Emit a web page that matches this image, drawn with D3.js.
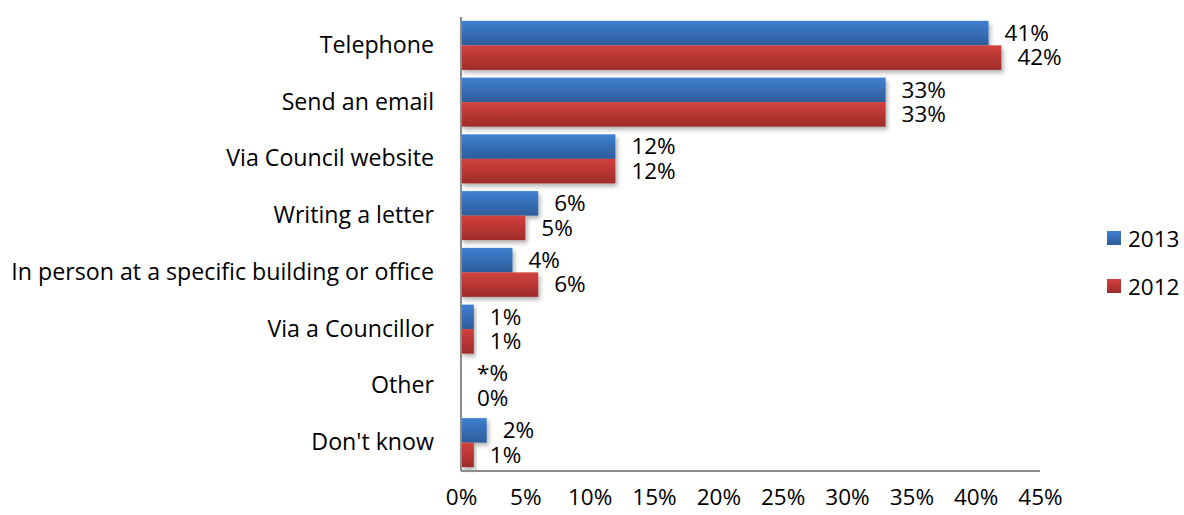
<!DOCTYPE html>
<html>
<head>
<meta charset="utf-8">
<script src="https://cdn.jsdelivr.net/npm/d3@7"></script>
<style>
  html, body { margin: 0; padding: 0; background: #fff; }
  svg { display: block; font-family: "Open Sans", "Noto Sans", sans-serif; }
</style>
</head>
<body>
<svg id="chart" width="1184" height="515"></svg>
<script>
// Contact channels, share of respondents (%)
const categories = ["Telephone", "Send an email", "Via Council website", "Writing a letter",
  "In person at a specific building or office", "Via a Councillor", "Other", "Don't know"];
const values2013 = [41, 33, 12, 6, 4, 1, 0, 2];
const values2012 = [42, 33, 12, 5, 6, 1, 0, 1];
const labels2013 = ["41%", "33%", "12%", "6%", "4%", "1%", "*%", "2%"];
const labels2012 = ["42%", "33%", "12%", "5%", "6%", "1%", "0%", "1%"];
const seriesNames = ["2013", "2012"];
const xTicks = [0, 5, 10, 15, 20, 25, 30, 35, 40, 45];

const fontSize = 22.5;
const catFontSize = 23.2;
const svg = d3.select("#chart");
const plotLeft = 461, plotRight = 1040, plotTop = 17, plotBottom = 471;

const x = d3.scaleLinear().domain([0, 45]).range([plotLeft, plotRight]);
const y = d3.scaleBand().domain(categories).range([plotTop, plotBottom]).paddingInner(0.136).paddingOuter(0.068);
const sub = d3.scaleBand().domain(seriesNames).range([0, y.bandwidth()]);

const defs = svg.append("defs");
const grad = (id, c1, c2) => {
  const g = defs.append("linearGradient").attr("id", id)
    .attr("x1", 0).attr("y1", 0).attr("x2", 0).attr("y2", 1);
  g.append("stop").attr("offset", "0%").attr("stop-color", c1);
  g.append("stop").attr("offset", "100%").attr("stop-color", c2);
};
grad("g2013", "#3e80d0", "#2d5c9a");
grad("g2012", "#d2413d", "#9e2b2a");
const sh = defs.append("filter").attr("id", "shadow")
  .attr("x", "-10%").attr("y", "-20%").attr("width", "130%").attr("height", "160%");
sh.append("feDropShadow").attr("dx", 2).attr("dy", 3).attr("stdDeviation", 2)
  .attr("flood-color", "#000").attr("flood-opacity", 0.3);

const fills = { "2013": "url(#g2013)", "2012": "url(#g2012)" };
const rows = categories.map((c, i) => ({
  cat: c,
  items: [
    { s: "2013", v: values2013[i], label: labels2013[i] },
    { s: "2012", v: values2012[i], label: labels2012[i] }
  ]
}));

// Bars
const groups = svg.append("g").selectAll("g").data(rows).join("g")
  .attr("transform", d => `translate(0,${y(d.cat)})`);
groups.selectAll("rect").data(d => d.items.filter(e => e.v > 0)).join("rect")
  .attr("x", x(0))
  .attr("y", d => sub(d.s))
  .attr("width", d => x(d.v) - x(0))
  .attr("height", sub.bandwidth())
  .attr("fill", d => fills[d.s])
  .attr("filter", "url(#shadow)");

// Value labels
groups.selectAll("text").data(d => d.items).join("text")
  .attr("x", d => x(d.v) + 16)
  .attr("y", d => sub(d.s) + sub.bandwidth() / 2)
  .attr("dy", "0.35em")
  .attr("font-size", fontSize)
  .attr("fill", "#000")
  .text(d => d.label);

// Axes
const yAxis = svg.append("g").attr("transform", `translate(${plotLeft},0)`)
  .call(d3.axisLeft(y).tickSize(0).tickPadding(27));
yAxis.select(".domain").attr("stroke", "#8c8c8c").attr("stroke-width", 2)
  .attr("d", `M0,${plotTop}V${plotBottom}`);
yAxis.selectAll("text").attr("font-size", catFontSize).attr("fill", "#000")
  .attr("font-family", "\"Open Sans\", sans-serif");

const xAxis = svg.append("g").attr("transform", `translate(0,${plotBottom})`)
  .call(d3.axisBottom(x).tickValues(xTicks).tickFormat(d => d + "%").tickSize(0).tickPadding(18));
xAxis.select(".domain").attr("stroke", "#8c8c8c").attr("stroke-width", 2)
  .attr("d", `M${plotLeft},0H${plotRight}`);
xAxis.selectAll("text").attr("font-size", fontSize).attr("fill", "#000")
  .attr("font-family", "\"Open Sans\", sans-serif");

// Legend
const legend = svg.append("g").selectAll("g").data(seriesNames).join("g")
  .attr("transform", (d, i) => `translate(1107,${231 + i * 48})`);
legend.append("rect").attr("width", 14).attr("height", 14).attr("fill", d => fills[d]);
legend.append("text").attr("x", 21).attr("y", 8).attr("dy", "0.35em")
  .attr("font-size", fontSize).attr("fill", "#000").text(d => d);
</script>
</body>
</html>
